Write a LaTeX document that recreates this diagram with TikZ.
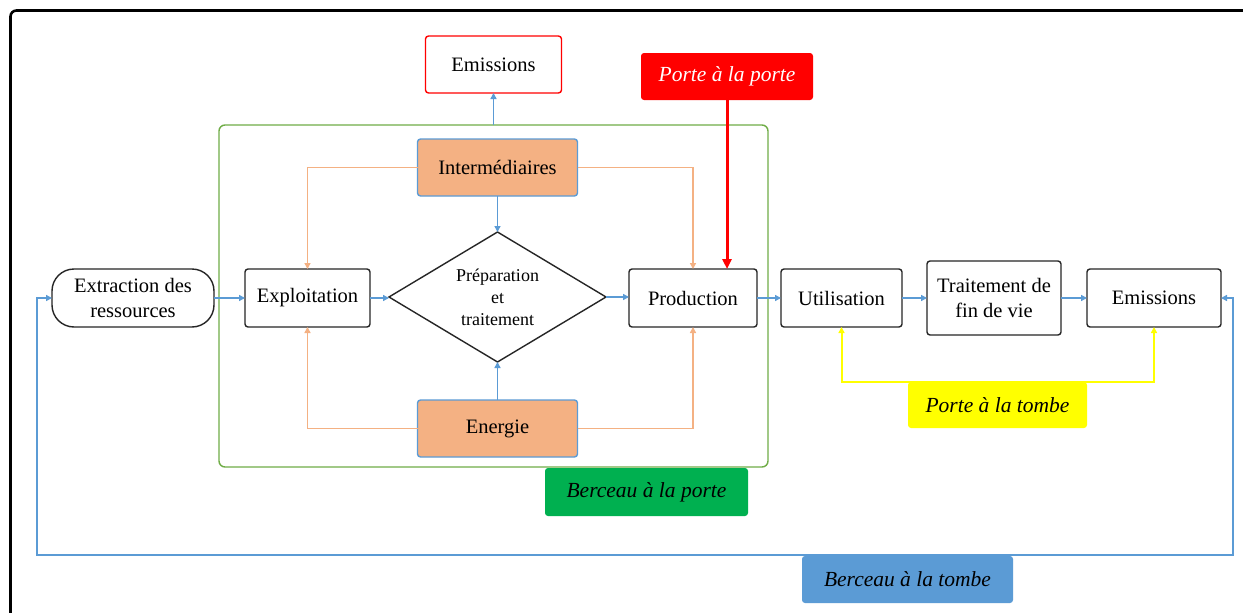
\documentclass[tikz,border=0pt]{standalone}
\usepackage{fontspec}
\setmainfont{Liberation Serif}
\usetikzlibrary{shapes.geometric,arrows.meta}
\definecolor{flowblue}{HTML}{5B9BD5}
\definecolor{linkorange}{HTML}{F4B183}
\definecolor{gategreen}{HTML}{70AD47}
\definecolor{tagreen}{HTML}{00B050}
\definecolor{tagyellow}{HTML}{FFFF00}
\definecolor{tagred}{HTML}{FF0000}
\definecolor{boxline}{HTML}{262626}

\tikzset{
  every node/.style={inner sep=0pt, outer sep=0pt, align=center},
  stage/.style={draw=boxline, line width=1.4pt, rounded corners=3pt,
                font=\fontsize{20.5}{25}\selectfont},
  inputbox/.style={draw=flowblue, fill=linkorange, line width=1.4pt,
                   rounded corners=3pt, font=\fontsize{20.5}{25}\selectfont},
  tagbox/.style={rounded corners=3pt, font=\fontsize{21.5}{25}\selectfont\itshape},
  tip/.style={-{Triangle[length=6pt,width=6pt]}},
  flow/.style={draw=flowblue, line width=1.4pt, tip},
  link/.style={draw=linkorange, line width=1.4pt, tip},
  gatelink/.style={draw=tagred, line width=3pt,
                   -{Triangle[length=10pt,width=9pt]}},
  tomblink/.style={draw=tagyellow, line width=2pt,
                   {Triangle[length=6pt,width=6pt]}-{Triangle[length=6pt,width=6pt]}},
  looplink/.style={draw=flowblue, line width=1.6pt,
                   {Triangle[length=6pt,width=6pt]}-{Triangle[length=6pt,width=6pt]}},
}

\begin{document}
\begin{tikzpicture}[x=1pt,y=-1pt]
  \clip (0,0) rectangle (1243,613);
  \fill[white] (0,0) rectangle (1243,613);

  % outer frame, running off the page on the right and at the bottom
  \draw[line width=2.6pt, rounded corners=6pt]
    (10.5,660) -- (10.5,10.5) -- (1290,10.5);

  % cradle-to-gate boundary
  \node[draw=gategreen, line width=1.4pt, rounded corners=6pt,
        minimum width=549pt, minimum height=342pt] (gate) at (493.5,296) {};

  % nodes
  \node[stage, draw=tagred, minimum width=136pt, minimum height=57pt]
    (emtop) at (493.5,64.5) {Emissions};
  \node[tagbox, fill=tagred, text=white, minimum width=172pt, minimum height=47pt]
    (pap) at (727,76.5) {Porte à la porte};
  \node[inputbox, minimum width=160pt, minimum height=57pt]
    (inter) at (497.5,167.5) {Intermédiaires};
  \node[inputbox, minimum width=160pt, minimum height=57pt]
    (energie) at (497.5,428.5) {Energie};
  \node[stage, rounded corners=22pt, minimum width=162pt, minimum height=58pt]
    (extr) at (133,298) {Extraction des\\ressources};
  \node[stage, minimum width=125pt, minimum height=58pt]
    (expl) at (307.5,298) {Exploitation};
  \node[diamond, shape aspect=1.67, draw=boxline, line width=1.4pt,
        minimum width=217pt, minimum height=130pt,
        font=\fontsize{18}{22}\selectfont]
    (prep) at (497.5,297) {Préparation\\et\\traitement};
  \node[stage, minimum width=128pt, minimum height=58pt]
    (prod) at (693,298) {Production};
  \node[stage, minimum width=121pt, minimum height=58pt]
    (util) at (841.5,298) {Utilisation};
  \node[stage, minimum width=134pt, minimum height=74pt]
    (trait) at (994,298) {Traitement de\\fin de vie};
  \node[stage, minimum width=134pt, minimum height=58pt]
    (emr) at (1154,298) {Emissions};
  \node[tagbox, fill=tagyellow, minimum width=179pt, minimum height=46pt]
    (pat) at (997.5,405) {Porte à la tombe};
  \node[tagbox, fill=tagreen, minimum width=203pt, minimum height=48pt]
    (bap) at (646.5,492) {Berceau à la porte};
  \node[tagbox, fill=flowblue, minimum width=211pt, minimum height=47pt]
    (bat) at (907.5,579.5) {Berceau à la tombe};

  % main chain
  \draw[flow] (extr.east) -- (expl.west);
  \draw[flow] (expl.east) -- (expl.east -| prep.west);
  \draw[flow] (prep.east) -- (prep.east -| prod.west);
  \draw[flow] (prod.east) -- (util.west);
  \draw[flow] (util.east) -- (trait.west);
  \draw[flow] (trait.east) -- (emr.west);

  % inputs to the process
  \draw[flow] (inter.south) -- (prep.north);
  \draw[flow] (energie.north) -- (prep.south);
  \draw[flow] (gate.north) -- (emtop.south);
  \draw[link] (inter.west) -| (expl.north);
  \draw[link] (inter.east) -| (prod.north);
  \draw[link] (energie.west) -| (expl.south);
  \draw[link] (energie.east) -| (prod.south);

  % scope markers
  \draw[gatelink] (pap.south) -- (pap.south |- prod.north);
  \draw[tomblink] (util.south) -- ++(0,55) -| (emr.south);
  \draw[looplink] (extr.west) -| (37,555) -| (1233,298) -- (emr.east);
\end{tikzpicture}
\end{document}
